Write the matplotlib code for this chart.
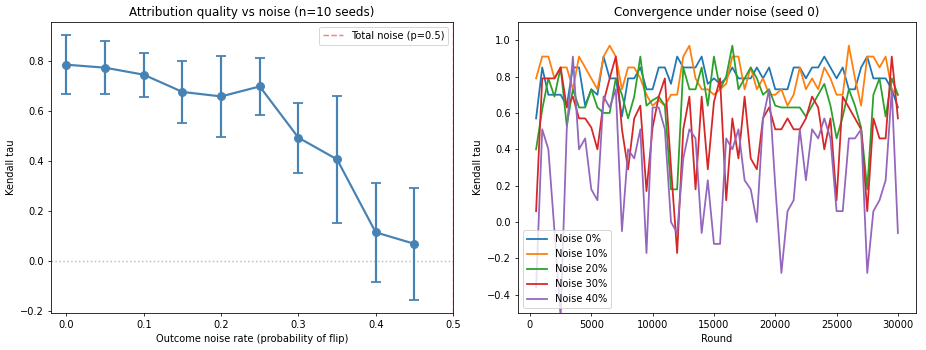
import matplotlib
matplotlib.use('Agg')
import matplotlib.pyplot as plt

# left panel: mean kendall tau over 10 seeds per noise rate
noise_rates = [0.0, 0.05, 0.1, 0.15, 0.2, 0.25, 0.3, 0.35, 0.4, 0.45]
tau_mean = [0.784, 0.772, 0.744, 0.675, 0.657, 0.697, 0.492, 0.405, 0.113, 0.067]
tau_std = [0.118, 0.106, 0.088, 0.125, 0.162, 0.113, 0.140, 0.253, 0.197, 0.224]

# right panel: tau per round, seed 0
rounds = list(range(500, 30001, 500))
noise_labels = ['Noise 0%', 'Noise 10%', 'Noise 20%', 'Noise 30%', 'Noise 40%']
tau_noise0 = [0.57, 0.85, 0.70, 0.70, 0.70, 0.64, 0.85, 0.85, 0.64, 0.73,
              0.70, 0.91, 0.79, 0.79, 0.58, 0.79, 0.79, 0.85, 0.73, 0.73,
              0.85, 0.85, 0.76, 0.91, 0.85, 0.85, 0.85, 0.91, 0.76, 0.79,
              0.76, 0.79, 0.85, 0.79, 0.79, 0.79, 0.85, 0.79, 0.85, 0.73,
              0.73, 0.73, 0.85, 0.85, 0.79, 0.85, 0.85, 0.91, 0.85, 0.79,
              0.85, 0.73, 0.73, 0.85, 0.91, 0.79, 0.79, 0.79, 0.73, 0.63]
tau_noise10 = [0.79, 0.91, 0.91, 0.79, 0.85, 0.85, 0.73, 0.91, 0.85, 0.79,
               0.73, 0.91, 0.97, 0.91, 0.73, 0.85, 0.85, 0.79, 0.70, 0.64,
               0.67, 0.64, 0.70, 0.70, 0.91, 0.97, 0.79, 0.73, 0.73, 0.70,
               0.73, 0.76, 0.91, 0.91, 0.73, 0.85, 0.73, 0.79, 0.70, 0.70,
               0.73, 0.64, 0.70, 0.85, 0.73, 0.79, 0.73, 0.85, 0.79, 0.70,
               0.70, 0.97, 0.79, 0.64, 0.91, 0.91, 0.85, 0.91, 0.73, 0.70]
tau_noise20 = [0.40, 0.62, 0.79, 0.69, 0.85, 0.53, 0.73, 0.63, 0.63, 0.73,
               0.63, 0.60, 0.60, 0.79, 0.70, 0.57, 0.69, 0.91, 0.64, 0.67,
               0.69, 0.64, 0.18, 0.18, 0.85, 0.73, 0.73, 0.85, 0.64, 0.91,
               0.73, 0.80, 0.97, 0.73, 0.79, 0.85, 0.79, 0.70, 0.73, 0.64,
               0.63, 0.63, 0.63, 0.63, 0.58, 0.64, 0.70, 0.76, 0.64, 0.46,
               0.58, 0.73, 0.64, 0.52, 0.18, 0.70, 0.79, 0.58, 0.79, 0.70]
tau_noise30 = [0.06, 0.79, 0.79, 0.79, 0.85, 0.63, 0.69, 0.57, 0.57, 0.52,
               0.40, 0.66, 0.79, 0.91, 0.51, 0.29, 0.57, 0.64, 0.17, 0.52,
               0.69, 0.79, 0.30, -0.17, 0.51, 0.69, 0.18, 0.69, 0.29, 0.66,
               0.79, 0.12, 0.57, 0.35, 0.69, 0.35, 0.29, 0.57, 0.63, 0.51,
               0.51, 0.57, 0.51, 0.51, 0.57, 0.69, 0.63, 0.40, 0.57, 0.12,
               0.69, 0.63, 0.57, 0.51, 0.06, 0.57, 0.46, 0.46, 0.91, 0.57]
tau_noise40 = [-0.36, 0.51, 0.40, -0.05, -0.52, 0.51, 0.91, 0.40, 0.46, 0.18,
               0.12, 0.69, 0.63, 0.73, -0.05, 0.40, 0.35, 0.51, -0.17, 0.63,
               0.63, 0.51, 0.00, -0.06, 0.35, 0.51, 0.46, -0.06, 0.23, -0.12,
               -0.12, 0.46, 0.40, 0.51, 0.23, 0.18, 0.00, 0.57, 0.73, 0.20,
               -0.28, 0.06, 0.12, 0.51, 0.23, 0.51, 0.46, 0.57, 0.46, 0.06,
               0.06, 0.46, 0.46, 0.51, -0.28, 0.06, 0.12, 0.23, 0.73, -0.06]
series = [tau_noise0, tau_noise10, tau_noise20, tau_noise30, tau_noise40]

dpi = 926 / 13
fig = plt.figure(figsize=(13, 350 / dpi), dpi=dpi)
ax1 = fig.add_axes([51 / 926, 1 - 313 / 350, 402 / 926, 291 / 350])
ax2 = fig.add_axes([518 / 926, 1 - 313 / 350, 398 / 926, 291 / 350])

ax1.errorbar(noise_rates, tau_mean, yerr=tau_std, fmt='o-', color='steelblue',
             capsize=5, linewidth=2.2, markersize=8, capthick=1.8)
ax1.axhline(0, color='gray', linestyle=':', alpha=0.5)
ax1.axvline(0.5, color='red', linestyle='--', alpha=0.5, label='Total noise (p=0.5)')
ax1.set_xlim(-0.02, 0.5)
ax1.set_xlabel('Outcome noise rate (probability of flip)')
ax1.set_ylabel('Kendall tau')
ax1.set_title('Attribution quality vs noise (n=10 seeds)')
ax1.legend(loc='upper right')

for vals, lab in zip(series, noise_labels):
    ax2.plot(rounds, vals, label=lab, linewidth=1.8)
ax2.set_ylim(-0.5, 1.1)
ax2.set_xlabel('Round')
ax2.set_ylabel('Kendall tau')
ax2.set_title('Convergence under noise (seed 0)')
ax2.legend(loc='lower left')

fig.savefig('out.png', dpi=dpi)
